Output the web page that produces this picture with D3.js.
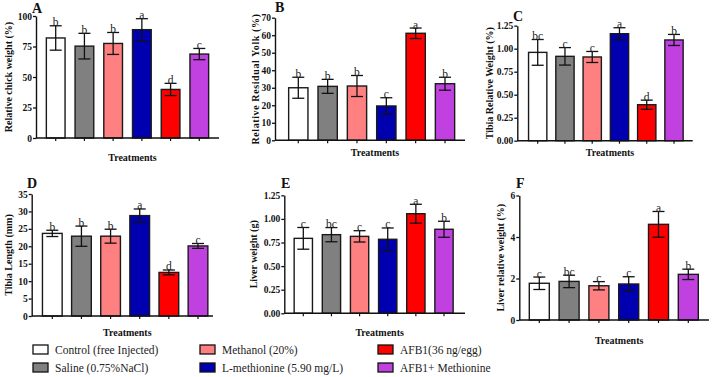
<!DOCTYPE html>
<html><head><meta charset="utf-8">
<script src="https://cdn.jsdelivr.net/npm/d3@7"></script>
<style>
body{margin:0;background:#fff;}
svg text{font-family:"Liberation Serif","Times New Roman",serif;}
</style></head>
<body><svg id="c" width="714" height="377"></svg>
<script>
// ---------- data ----------
const treatments = ["Control (free Injected)", "Saline (0.75%NaCl)", "Methanol (20%)", "L-methionine (5.90 mg/L)", "AFB1(36 ng/egg)", "AFB1+ Methionine"];
const barColors = ["#ffffff", "#808080", "#ff8080", "#0000b0", "#ff0000", "#c040e0"];

const chickWeight = [82, 75.3, 77.5, 88.8, 39.8, 68.8];
const chickWeightErr = [10, 10.5, 9, 9, 5, 4.6];
const chickWeightSig = ["b", "b", "b", "a", "d", "c"];
const chickWeightTicks = [0, 25, 50, 75, 100];

const residualYolk = [30, 30.8, 31, 19.6, 61.1, 32.3];
const residualYolkErr = [6, 4, 6, 4.7, 3, 3.7];
const residualYolkSig = ["b", "b", "b", "c", "a", "b"];
const residualYolkTicks = [0, 10, 20, 30, 40, 50, 60, 70];

const tibiaWeight = [0.96, 0.917, 0.91, 1.163, 0.391, 1.095];
const tibiaWeightErr = [0.14, 0.095, 0.06, 0.065, 0.05, 0.06];
const tibiaWeightSig = ["bc", "c", "c", "a", "d", "b"];
const tibiaWeightTicks = [0, 0.25, 0.5, 0.75, 1.0, 1.25];

const tibiaLength = [23.7, 22.9, 22.9, 28.8, 12.5, 20.1];
const tibiaLengthErr = [0.9, 2.9, 2, 1.9, 0.7, 0.7];
const tibiaLengthSig = ["b", "b", "b", "a", "d", "c"];
const tibiaLengthTicks = [0, 5, 10, 15, 20, 25, 30, 35];

const liverWeight = [0.794, 0.833, 0.815, 0.784, 1.055, 0.89];
const liverWeightErr = [0.115, 0.075, 0.06, 0.12, 0.1, 0.085];
const liverWeightSig = ["c", "bc", "c", "c", "a", "b"];
const liverWeightTicks = [0, 0.25, 0.5, 0.75, 1.0, 1.25];

const liverRel = [1.77, 1.86, 1.65, 1.735, 4.61, 2.2];
const liverRelErr = [0.3, 0.3, 0.2, 0.35, 0.62, 0.25];
const liverRelSig = ["c", "bc", "c", "c", "a", "b"];
const liverRelTicks = [0, 2, 4, 6];

// ---------- layout ----------
const panels = [
  {tag:"A", title:"Relative chick weight (%)", v:chickWeight, e:chickWeightErr, s:chickWeightSig, ticks:chickWeightTicks, fmt:d3.format("d"),
   left:36, right:219, bottom:138, top:16, c0:55.7, c5:199.3, bw:18.7, tagX:32, tagY:13, labX:8.5, xlabY:161},
  {tag:"B", title:"Relative  Residual Yolk  (%)", v:residualYolk, e:residualYolkErr, s:residualYolkSig, ticks:residualYolkTicks, fmt:d3.format("d"),
   left:275, right:465, bottom:140.3, top:17.7, c0:298.3, c5:445, bw:19.3, tagX:275, tagY:12, labX:255.5, xlabY:156, spaced:true},
  {tag:"C", title:"Tibia Relative Weight (%)", v:tibiaWeight, e:tibiaWeightErr, s:tibiaWeightSig, ticks:tibiaWeightTicks, fmt:d3.format(".2f"),
   left:517.3, right:692.7, bottom:140.7, top:25.7, c0:537.7, c5:674, bw:18.3, tagX:513, tagY:21, labX:489.5, xlabY:156},
  {tag:"D", title:"Tibia Length (mm)", v:tibiaLength, e:tibiaLengthErr, s:tibiaLengthSig, ticks:tibiaLengthTicks, fmt:d3.format("d"),
   left:31.7, right:213, bottom:316, top:194, c0:52.3, c5:198, bw:19.7, tagX:27, tagY:188, labX:8.8, xlabY:336},
  {tag:"E", title:"Liver weight (g)", v:liverWeight, e:liverWeightErr, s:liverWeightSig, ticks:liverWeightTicks, fmt:d3.format(".2f"),
   left:284.3, right:465, bottom:313.3, top:195.3, c0:303.3, c5:444, bw:18.3, tagX:281, tagY:188, labX:253, xlabY:336},
  {tag:"F", title:"Liver relative weight (%)", v:liverRel, e:liverRelErr, s:liverRelSig, ticks:liverRelTicks, fmt:d3.format("d"),
   left:519.3, right:709, bottom:320, top:195.5, c0:539.3, c5:688.3, bw:20, tagX:516, tagY:188, labX:500, xlabY:344},
];

const svg = d3.select("#c");

panels.forEach(p => {
  const g = svg.append("g");
  const step = (p.c5 - p.c0) / 5;
  const pin = 1 - p.bw / step;
  const x = d3.scaleBand().domain(treatments).range([p.c0 - step/2, p.c5 + step/2]).paddingInner(pin).paddingOuter(pin/2);
  const ymax = p.ticks[p.ticks.length - 1];
  const y = d3.scaleLinear().domain([0, ymax]).range([p.bottom, p.top]);

  // bars
  g.selectAll("rect.bar").data(treatments).enter().append("rect")
    .attr("x", d => x(d)).attr("width", x.bandwidth())
    .attr("y", (d,i) => y(p.v[i])).attr("height", (d,i) => p.bottom - y(p.v[i]))
    .attr("fill", (d,i) => barColors[i]).attr("stroke", "#1a1a1a").attr("stroke-width", 1.4);

  // error bars
  const cap = 6;
  treatments.forEach((d,i) => {
    const cx = x(d) + x.bandwidth()/2;
    const yt = y(p.v[i] + p.e[i]), yb = y(p.v[i] - p.e[i]);
    g.append("line").attr("x1", cx).attr("x2", cx).attr("y1", yt).attr("y2", yb).attr("stroke", "#111").attr("stroke-width", 1.3);
    g.append("line").attr("x1", cx-cap).attr("x2", cx+cap).attr("y1", yt).attr("y2", yt).attr("stroke", "#111").attr("stroke-width", 1.3);
    g.append("line").attr("x1", cx-cap).attr("x2", cx+cap).attr("y1", yb).attr("y2", yb).attr("stroke", "#111").attr("stroke-width", 1.3);
    g.append("text").attr("x", cx).attr("y", yt + 0.5).attr("text-anchor", "middle")
      .attr("font-size", 11.5).attr("fill", "#222").text(p.s[i]);
  });

  // y axis
  const ya = g.append("g").attr("transform", `translate(${p.left},0)`)
    .call(d3.axisLeft(y).tickValues(p.ticks).tickFormat(p.fmt).tickSize(3).tickSizeOuter(0).tickPadding(1));
  ya.select(".domain").attr("stroke", "#111").attr("stroke-width", 1.4);
  ya.selectAll(".tick line").attr("stroke", "#111").attr("stroke-width", 1.3);
  ya.selectAll(".tick text").attr("font-family", "Liberation Serif, serif").attr("font-weight", "bold").attr("font-size", 9.5).attr("fill", "#111");

  // x axis
  const xa = g.append("g").attr("transform", `translate(0,${p.bottom})`)
    .call(d3.axisBottom(x).tickSize(3).tickSizeOuter(0).tickFormat(""));
  xa.select(".domain").remove();
  xa.selectAll(".tick line").attr("stroke", "#111").attr("stroke-width", 1.2);
  g.append("line").attr("x1", p.left).attr("x2", p.right).attr("y1", p.bottom).attr("y2", p.bottom)
    .attr("stroke", "#111").attr("stroke-width", 1.4);

  // labels
  g.append("text").attr("x", p.tagX).attr("y", p.tagY).attr("font-weight", "bold").attr("font-size", 14).attr("fill", "#111").text(p.tag);
  const yl = g.append("text").attr("transform", `translate(${p.labX},${(p.top+p.bottom)/2}) rotate(-90)`)
    .attr("text-anchor", "middle").attr("dy", "0.35em").attr("font-weight", "bold").attr("font-size", 10).attr("fill", "#111").text(p.title);
  if (p.spaced) yl.attr("letter-spacing", 0.6);
  g.append("text").attr("x", (p.left + p.right)/2 + 5).attr("y", p.xlabY).attr("text-anchor", "middle")
    .attr("font-weight", "bold").attr("font-size", 10).attr("fill", "#111").text("Treatments");
});

// legend
const legCols = [33, 200, 378];
const legRows = [350, 368];
treatments.forEach((t,i) => {
  const col = Math.floor(i/2), row = i % 2;
  const lx = legCols[col], ly = legRows[row];
  svg.append("rect").attr("x", lx).attr("y", ly - 5).attr("width", 15).attr("height", 9)
    .attr("fill", barColors[i]).attr("stroke", "#111").attr("stroke-width", 1.3);
  svg.append("text").attr("x", lx + 22).attr("y", ly).attr("dy", "0.35em").attr("font-size", 11.5).attr("fill", "#222").text(t);
});
</script></body></html>
